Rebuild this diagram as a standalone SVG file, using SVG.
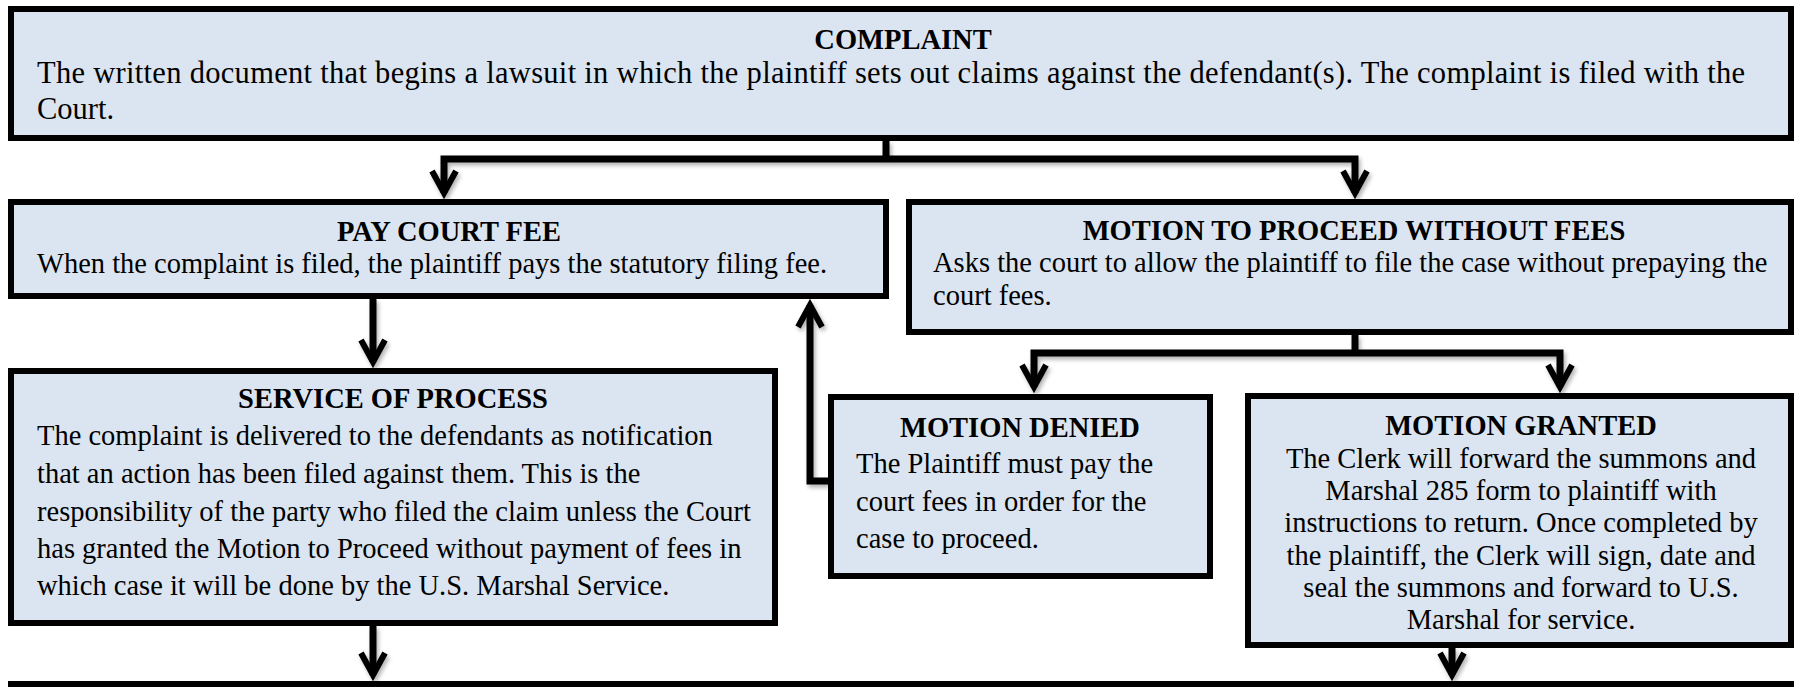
<svg xmlns="http://www.w3.org/2000/svg" width="1796" height="687" viewBox="0 0 1796 687">
<style>
.box{fill:#dbe5f1;stroke:#000;stroke-width:6}
.t{font-family:"Liberation Serif","Times New Roman",serif;font-size:28.5px;fill:#000}
.big{font-size:30.5px}
.h{font-weight:bold;text-anchor:middle}
.c{text-anchor:middle}
.con{fill:none;stroke:#000;stroke-width:7;stroke-linejoin:miter;marker-end:url(#ah)}
.con2{fill:none;stroke:#000;stroke-width:7;stroke-linejoin:miter}
</style>
<defs>
<marker id="ah" markerUnits="userSpaceOnUse" markerWidth="60" markerHeight="60" viewBox="-30 -30 60 60" refX="0" refY="0" orient="auto" overflow="visible">
<path d="M-22,-12 L0,0 L-22,12" fill="none" stroke="#000" stroke-width="6"/>
</marker>
<filter id="sh" x="-10%" y="-10%" width="120%" height="120%">
<feDropShadow dx="2" dy="3" stdDeviation="2" flood-color="#000" flood-opacity="0.3"/>
</filter>
</defs>
<g id="connectors" filter="url(#sh)">
<path class="con2" d="M886,141 V159"/>
<path class="con" d="M886,159 H444 V193"/>
<path class="con" d="M886,159 H1355 V193"/>
<path class="con2" d="M1355,335 V353"/>
<path class="con" d="M1355,353 H1034 V387"/>
<path class="con" d="M1355,353 H1560 V387"/>
<path class="con" d="M373,299 V362"/>
<path class="con" d="M828,481 H810 V305"/>
<path class="con" d="M373,626 V675"/>
<path class="con" d="M1452,648 V675"/>
</g>
<g id="complaint">
<rect class="box" x="11" y="9" width="1780" height="129"/>
<text class="t h" x="903" y="49">COMPLAINT</text>
<text class="t big" x="37" y="83" textLength="1708" lengthAdjust="spacing">The written document that begins a lawsuit in which the plaintiff sets out claims against the defendant(s). The complaint is filed with the</text>
<text class="t big" x="37" y="119">Court.</text>
</g>
<g id="pay-court-fee">
<rect class="box" x="11" y="202" width="875" height="94"/>
<text class="t h" x="449" y="241">PAY COURT FEE</text>
<text class="t" x="37" y="273">When the complaint is filed, the plaintiff pays the statutory filing fee.</text>
</g>
<g id="motion-proceed">
<rect class="box" x="909" y="202" width="882" height="130"/>
<text class="t h" x="1354" y="240">MOTION TO PROCEED WITHOUT FEES</text>
<text class="t" x="933" y="272">Asks the court to allow the plaintiff to file the case without prepaying the</text>
<text class="t" x="933" y="305">court fees.</text>
</g>
<g id="service-of-process">
<rect class="box" x="11" y="371" width="764" height="252"/>
<text class="t h" x="393" y="408">SERVICE OF PROCESS</text>
<text class="t" x="37" y="445">The complaint is delivered to the defendants as notification</text>
<text class="t" x="37" y="483">that an action has been filed against them. This is the</text>
<text class="t" x="37" y="521">responsibility of the party who filed the claim unless the Court</text>
<text class="t" x="37" y="558">has granted the Motion to Proceed without payment of fees in</text>
<text class="t" x="37" y="595">which case it will be done by the U.S. Marshal Service.</text>
</g>
<g id="motion-denied">
<rect class="box" x="831" y="397" width="379" height="179"/>
<text class="t h" x="1020" y="437">MOTION DENIED</text>
<text class="t" x="856" y="473">The Plaintiff must pay the</text>
<text class="t" x="856" y="511">court fees in order for the</text>
<text class="t" x="856" y="548">case to proceed.</text>
</g>
<g id="motion-granted">
<rect class="box" x="1248" y="396" width="543" height="249"/>
<text class="t h" x="1521" y="435">MOTION GRANTED</text>
<text class="t c" x="1521" y="468">The Clerk will forward the summons and</text>
<text class="t c" x="1521" y="500">Marshal 285 form to plaintiff with</text>
<text class="t c" x="1521" y="532">instructions to return. Once completed by</text>
<text class="t c" x="1521" y="565">the plaintiff, the Clerk will sign, date and</text>
<text class="t c" x="1521" y="597">seal the summons and forward to U.S.</text>
<text class="t c" x="1521" y="629">Marshal for service.</text>
</g>
<g id="next-step">
<rect class="box" x="11" y="684" width="1780" height="40"/>
</g>
</svg>
